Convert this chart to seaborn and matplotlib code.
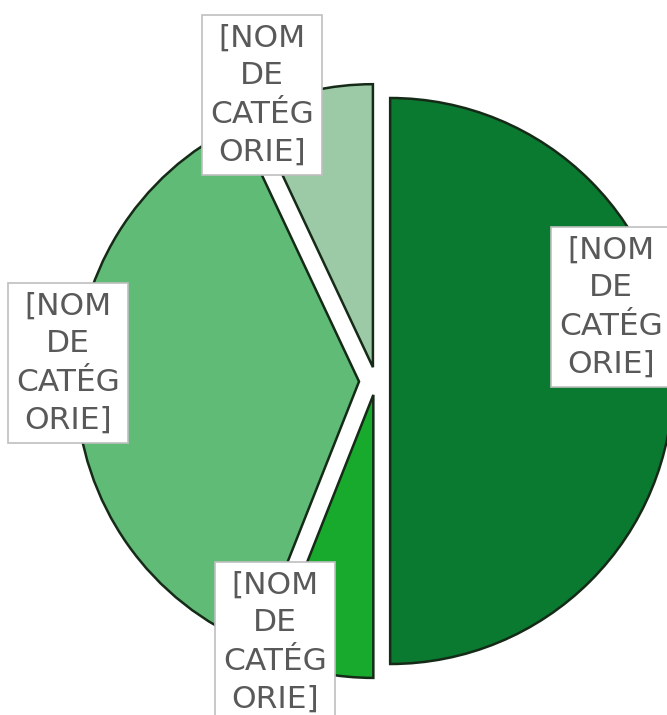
import matplotlib
matplotlib.use("Agg")
import matplotlib.pyplot as plt
import seaborn as sns

# données
categories = ["[NOM\nDE\nCATÉG\nORIE]"] * 4
values = [50, 6, 37, 7]
colors = ["#0a7a31", "#17aa2c", "#5fbb76", "#9ccaa7"]
explode_frac = [0.05, 0.05, 0.06, 0.05]

# position des étiquettes (pixels, origine en haut à gauche)
label_pos = [(611, 307), (275, 642), (68, 363), (262, 95)]

sns.set_theme(style="white")
plt.rcParams['font.family'] = ['DejaVu Sans']

W, H = 667, 715
R = 283
fig = plt.figure(figsize=(W / 100, H / 100), dpi=100)
ax = fig.add_axes([0, 0, 1, 1])

# explode de matplotlib est en unités de données
explode = [e * R for e in explode_frac]
wedges, _ = ax.pie(values, colors=colors, explode=explode, startangle=90,
                   counterclock=False, center=(376, H - 381), radius=R,
                   wedgeprops=dict(edgecolor="#152a17", linewidth=1.8),
                   frame=True)
ax.set_xlim(0, W)
ax.set_ylim(0, H)
ax.set_aspect("equal")
ax.axis("off")

for lab, (px, py) in zip(categories, label_pos):
    ax.text(px, H - py, lab, ha="center", va="center", fontsize=22.5,
            color="#595959", linespacing=1.4,
            bbox=dict(boxstyle="square,pad=0.25", facecolor="white",
                      edgecolor="#bfbfbf", linewidth=1.2))

fig.savefig("out.png", dpi=100)
